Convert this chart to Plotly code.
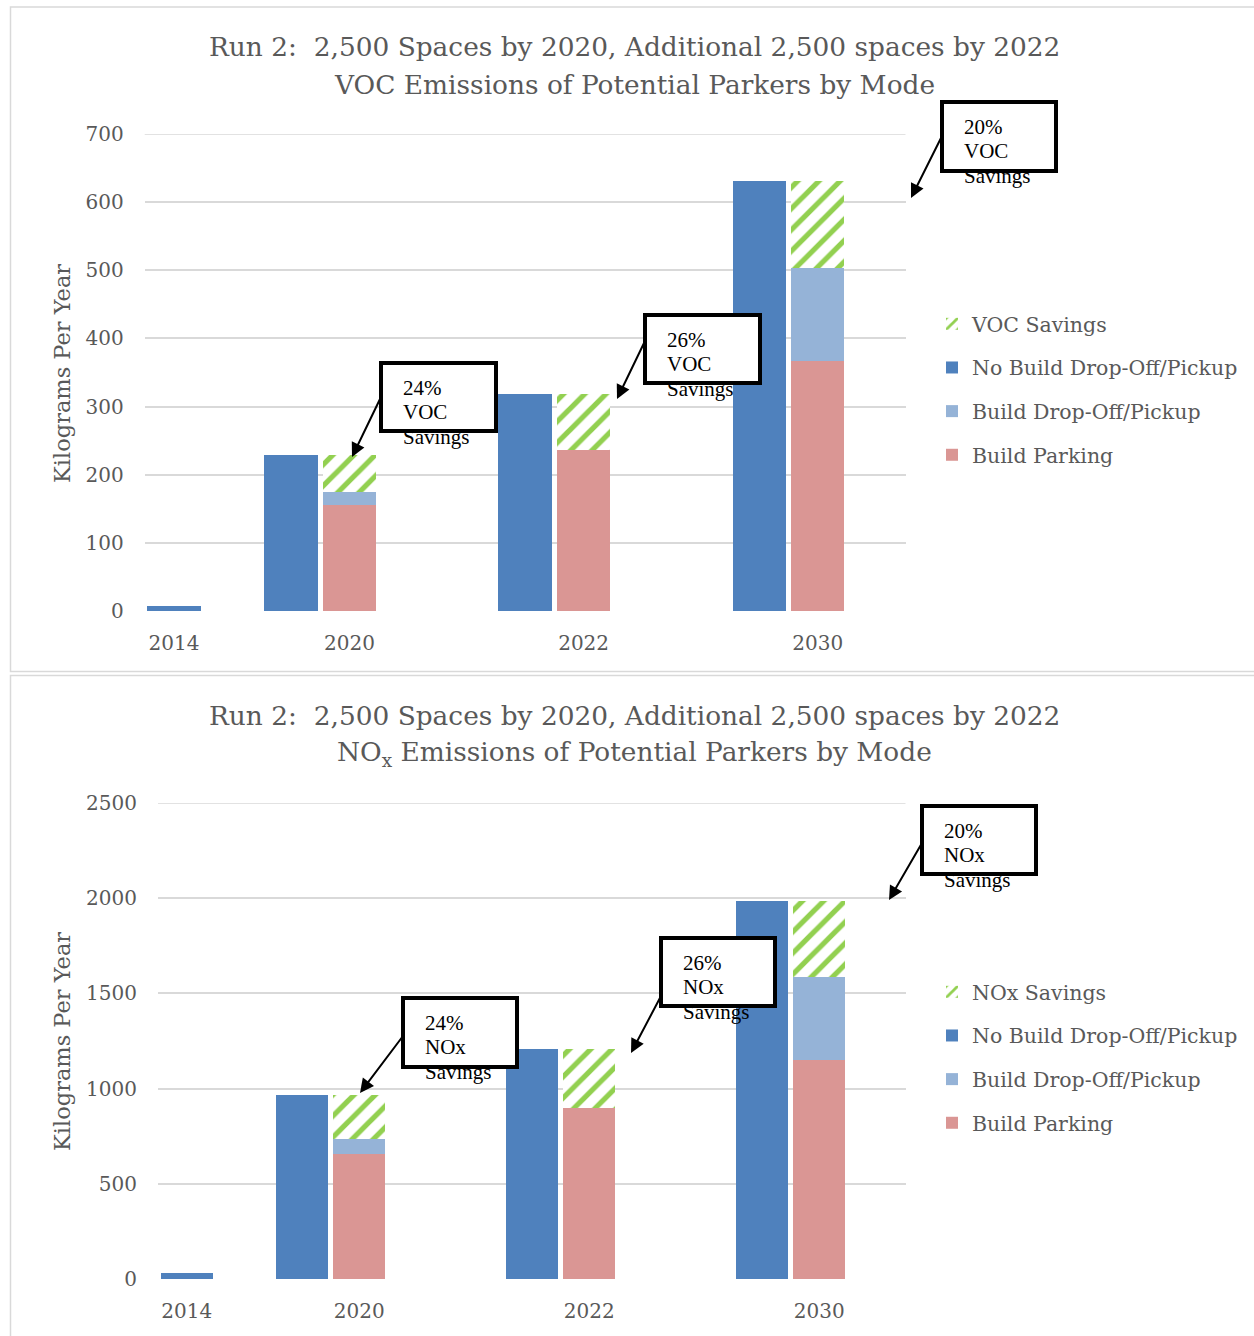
import plotly.graph_objects as go

# ---------------- data ----------------
years = ["2014", "2020", "2022", "2030"]

voc_no_build = [7, 229, 318, 631]
voc_build_parking = [0, 156, 236, 367]
voc_build_dropoff = [0, 18, 0, 136]
voc_savings = [0, 55, 82, 128]

nox_no_build = [32, 966, 1208, 1987]
nox_build_parking = [0, 658, 896, 1149]
nox_build_dropoff = [0, 77, 0, 437]
nox_savings = [0, 231, 312, 401]

voc_axis_max = 700
nox_axis_max = 2500

# ---------------- layout helpers ----------------
W, H = 1254, 1336
def fx(p):
    return p / W
def fy(p):
    return 1 - p / H

# slot layout on the category axis (13 slots, as in the original Excel chart)
slot_nobuild = [0, 2, 6, 10]
slot_build = [1, 3, 7, 11]

C_NOBUILD = "#4f81bd"
C_DROPOFF = "#95b3d7"
C_PARKING = "#da9694"
C_SAVING = "#92d050"
GRAY = "#595959"
GRID = "#d9d9d9"
SERIF = "DejaVu Serif"
CALLOUT_FONT = "Liberation Serif"

fig = go.Figure()

panels = [
    dict(nb=voc_no_build, bp=voc_build_parking, bd=voc_build_dropoff, sv=voc_savings,
         xa="x", ya="y", leg="legend", pol="VOC"),
    dict(nb=nox_no_build, bp=nox_build_parking, bd=nox_build_dropoff, sv=nox_savings,
         xa="x2", ya="y2", leg="legend2", pol="NOx"),
]

for p in panels:
    common = dict(xaxis=p["xa"], yaxis=p["ya"], legend=p["leg"], hoverinfo="skip")
    fig.add_trace(go.Bar(x=slot_build, y=p["bp"], name="Build Parking",
                         marker=dict(color=C_PARKING, line=dict(width=0)),
                         legendgroup=p["pol"] + "bp", legendrank=4, **common))
    fig.add_trace(go.Bar(x=slot_build, y=p["bd"], name="Build Drop-Off/Pickup",
                         marker=dict(color=C_DROPOFF, line=dict(width=0)),
                         legendgroup=p["pol"] + "bd", legendrank=3, **common))
    fig.add_trace(go.Bar(x=slot_build, y=p["sv"], name=p["pol"] + " Savings",
                         marker=dict(color=C_SAVING, line=dict(width=0),
                                     pattern=dict(shape="/", fgcolor=C_SAVING, bgcolor="white",
                                                  size=15, solidity=0.35, fillmode="replace")),
                         legendgroup=p["pol"] + "sv", legendrank=1, **common))
    fig.add_trace(go.Bar(x=slot_nobuild, y=p["nb"], name="No Build Drop-Off/Pickup",
                         marker=dict(color=C_NOBUILD, line=dict(width=0)),
                         legendgroup=p["pol"] + "nb", legendrank=2, **common))

def tick_positions(bp, bd, sv):
    out = []
    for i in range(len(years)):
        total_build = bp[i] + bd[i] + sv[i]
        out.append(slot_build[i] if total_build > 0 else slot_nobuild[i])
    return out

axis_font = dict(family=SERIF, size=20, color=GRAY)

xcommon = dict(range=[-0.5, 12.5], showgrid=False, zeroline=False, showline=False,
               ticks="", tickfont=axis_font, automargin=False,
               ticklabelstandoff=18, fixedrange=True)
ycommon = dict(showgrid=True, gridcolor=GRID, gridwidth=1.5, zeroline=False,
               showline=False, ticks="", tickfont=axis_font, ticklabelstandoff=20,
               automargin=False, fixedrange=True)

legend_common = dict(xanchor="left", yanchor="top", traceorder="grouped", tracegroupgap=14,
                     bgcolor="rgba(0,0,0,0)", font=dict(family=SERIF, size=20.5, color=GRAY),
                     itemclick=False, itemdoubleclick=False)

fig.update_layout(
    template="none",
    width=W, height=H, autosize=False,
    margin=dict(l=0, r=0, t=0, b=0, pad=0, autoexpand=False),
    paper_bgcolor="white", plot_bgcolor="white",
    barmode="stack", bargap=0.09,
    showlegend=True,
    xaxis=dict(domain=[fx(144.7), fx(905.5)], anchor="y",
               tickvals=tick_positions(voc_build_parking, voc_build_dropoff, voc_savings),
               ticktext=years, **xcommon),
    yaxis=dict(domain=[fy(611), fy(134)], anchor="x", range=[0, voc_axis_max], dtick=100,
               **ycommon),
    xaxis2=dict(domain=[fx(158), fx(905.5)], anchor="y2",
                tickvals=tick_positions(nox_build_parking, nox_build_dropoff, nox_savings),
                ticktext=years, **xcommon),
    yaxis2=dict(domain=[fy(1279), fy(803)], anchor="x2", range=[0, nox_axis_max], dtick=500,
                **ycommon),
    legend=dict(x=fx(932), y=fy(304), **legend_common),
    legend2=dict(x=fx(932), y=fy(972), **legend_common),
)

shapes = []
annotations = []

# top gridlines (Plotly drops the grid line that sits on the plot edge)
for xr, yr, top in (("x domain", "y", voc_axis_max), ("x2 domain", "y2", nox_axis_max)):
    shapes.append(dict(type="line", xref=xr, yref=yr, x0=0, x1=1, y0=top, y1=top,
                       line=dict(color=GRID, width=1.5), layer="below"))

# chart frames
shapes.append(dict(type="rect", xref="paper", yref="paper", x0=fx(10.5), x1=fx(1262),
                   y0=fy(671.5), y1=fy(7), line=dict(color=GRID, width=1.5), layer="below"))
shapes.append(dict(type="rect", xref="paper", yref="paper", x0=fx(10.5), x1=fx(1262),
                   y0=fy(1350), y1=fy(675.5), line=dict(color=GRID, width=1.5), layer="below"))

# titles
title_font = dict(family=SERIF, size=26.4, color=GRAY)
titles = [
    (47, "Run 2:  2,500 Spaces by 2020, Additional 2,500 spaces by 2022"),
    (85, "VOC Emissions of Potential Parkers by Mode"),
    (716, "Run 2:  2,500 Spaces by 2020, Additional 2,500 spaces by 2022"),
    (753, "NO<sub>x</sub> Emissions of Potential Parkers by Mode"),
]
for ypix, txt in titles:
    annotations.append(dict(xref="paper", yref="paper", x=fx(634), y=fy(ypix), text=txt,
                            showarrow=False, xanchor="center", yanchor="middle",
                            font=title_font))

# y axis titles
for ycen in (373, 1041):
    annotations.append(dict(xref="paper", yref="paper", x=fx(62), y=fy(ycen),
                            text="Kilograms Per Year", textangle=-90, showarrow=False,
                            xanchor="center", yanchor="middle",
                            font=dict(family=SERIF, size=22.5, color=GRAY)))

# callouts: box (left, top, right, bottom), arrow tail, arrow head
def pct(sv, nb, i):
    return f"{round(sv[i] / nb[i] * 100)}%"

callouts = [
    ((381, 363, 496, 431), (381, 397), (352, 457), pct(voc_savings, voc_no_build, 1), "VOC"),
    ((645, 315, 760, 383), (645, 341), (617, 399), pct(voc_savings, voc_no_build, 2), "VOC"),
    ((942, 102, 1056, 171), (942, 136), (911, 198), pct(voc_savings, voc_no_build, 3), "VOC"),
    ((403, 998, 517, 1067), (403, 1036), (360, 1093), pct(nox_savings, nox_no_build, 1), "NOx"),
    ((661, 938, 775, 1006), (661, 996), (631, 1053), pct(nox_savings, nox_no_build, 2), "NOx"),
    ((922, 806, 1036, 874), (922, 843), (889, 900), pct(nox_savings, nox_no_build, 3), "NOx"),
]
for (l, t, r, b), tail, head, ptxt, pol in callouts:
    annotations.append(dict(xref="paper", yref="paper", x=fx(head[0]), y=fy(head[1]),
                            ax=tail[0] - head[0], ay=tail[1] - head[1],
                            axref="pixel", ayref="pixel", text="", showarrow=True,
                            arrowhead=2, arrowsize=1.4, arrowwidth=2, arrowcolor="black",
                            standoff=0, startstandoff=0))
    shapes.append(dict(type="rect", xref="paper", yref="paper", x0=fx(l), x1=fx(r),
                       y0=fy(b), y1=fy(t), line=dict(color="black", width=4),
                       fillcolor="white", layer="above"))
    for k, line_txt in enumerate([ptxt, pol, "Savings"]):
        annotations.append(dict(xref="paper", yref="paper", x=fx(l + 20), y=fy(t + 24.7 + 24.7 * k),
                                text=line_txt, showarrow=False, xanchor="left",
                                yanchor="middle",
                                font=dict(family=CALLOUT_FONT, size=21, color="black")))

fig.update_layout(shapes=shapes, annotations=annotations)

fig.write_html("out.html", config={"displayModeBar": False},
               post_script="document.body.style.margin='0';")
